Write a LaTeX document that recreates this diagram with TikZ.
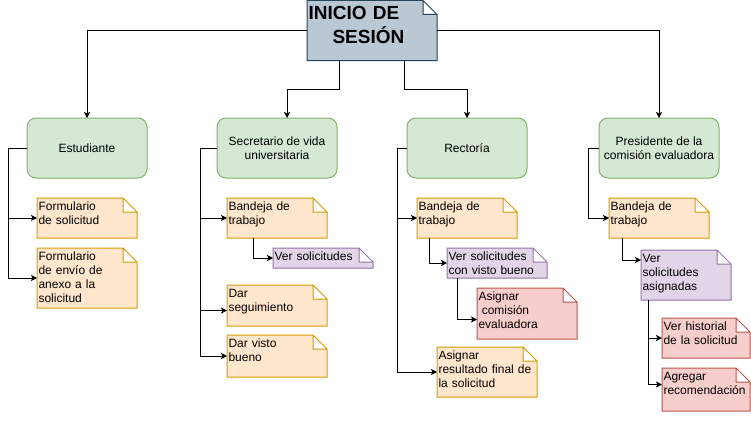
\documentclass[tikz,border=0pt]{standalone}
\usepackage{fontspec}
\setmainfont{Liberation Sans}
\usetikzlibrary{arrows.meta}

\definecolor{actorfill}{HTML}{D5E8D4}
\definecolor{actorline}{HTML}{82B366}
\definecolor{taskfill}{HTML}{FFE6CC}
\definecolor{taskline}{HTML}{D79B00}
\definecolor{viewfill}{HTML}{E1D5E7}
\definecolor{viewline}{HTML}{9673A6}
\definecolor{actfill}{HTML}{F8CECC}
\definecolor{actline}{HTML}{B85450}
\definecolor{titlefill}{HTML}{BAC8D3}
\definecolor{titleline}{HTML}{23445D}

\makeatletter
% rectangle with a folded top right corner
\pgfdeclareshape{dognote}{
  \inheritsavedanchors[from=rectangle]
  \inheritanchorborder[from=rectangle]
  \inheritanchor[from=rectangle]{center}
  \inheritanchor[from=rectangle]{north}
  \inheritanchor[from=rectangle]{south}
  \inheritanchor[from=rectangle]{east}
  \inheritanchor[from=rectangle]{west}
  \inheritanchor[from=rectangle]{north east}
  \inheritanchor[from=rectangle]{north west}
  \inheritanchor[from=rectangle]{south east}
  \inheritanchor[from=rectangle]{south west}
  \inheritanchor[from=rectangle]{text}
  \inheritanchor[from=rectangle]{base}
  \inheritanchor[from=rectangle]{mid}
  \backgroundpath{
    \southwest \edef\dnxa{\the\pgf@x}\edef\dnya{\the\pgf@y}
    \northeast \edef\dnxb{\the\pgf@x}\edef\dnyb{\the\pgf@y}
    \pgf@x=\dnxb\advance\pgf@x by -14pt\edef\dnxc{\the\pgf@x}
    \pgf@y=\dnyb\advance\pgf@y by -14pt\edef\dnyc{\the\pgf@y}
    \pgfpathmoveto{\pgfqpoint{\dnxa}{\dnya}}
    \pgfpathlineto{\pgfqpoint{\dnxa}{\dnyb}}
    \pgfpathlineto{\pgfqpoint{\dnxc}{\dnyb}}
    \pgfpathlineto{\pgfqpoint{\dnxb}{\dnyc}}
    \pgfpathlineto{\pgfqpoint{\dnxb}{\dnya}}
    \pgfpathclose
    \pgfpathmoveto{\pgfqpoint{\dnxc}{\dnyb}}
    \pgfpathlineto{\pgfqpoint{\dnxc}{\dnyc}}
    \pgfpathlineto{\pgfqpoint{\dnxb}{\dnyc}}
  }
}
\makeatother

\tikzset{
  boxfont/.style={font=\fontsize{12}{14}\selectfont, inner sep=0pt, outer sep=0pt, line width=1pt},
  actor/.style={boxfont, draw=actorline, fill=actorfill, rounded corners=9pt,
    minimum width=120pt, minimum height=60pt, align=center},
  note/.style={boxfont, shape=dognote, anchor=north west, align=left,
    inner xsep=1.5pt, text height=12.3pt},
  dims/.code 2 args={\pgfmathsetmacro\notetw{#1-3}\pgfmathsetmacro\notedp{#2-12.3}%
    \edef\notedo{\noexpand\tikzset{minimum width=#1pt, minimum height=#2pt,
      text width=\notetw pt, text depth=\notedp pt}}\notedo},
  task/.style={note, draw=taskline, fill=taskfill},
  view/.style={note, draw=viewline, fill=viewfill},
  act/.style={note, draw=actline, fill=actfill},
  link/.style={draw=black, line width=0.9pt, -{Stealth[length=6pt,width=6pt,inset=1.5pt]}},
}

\begin{document}
\begin{tikzpicture}[x=1pt, y=-1pt]
  \useasboundingbox (0,0) rectangle (751,420);

  % title
  \node[boxfont, shape=dognote, draw=titleline, fill=titlefill, anchor=north west,
    align=left, inner xsep=1.5pt, text width=127pt, minimum width=130pt,
    text height=19pt, text depth=41pt, font=\fontsize{19}{24}\selectfont\bfseries]
    (title) at (307,0.5) {INICIO DE\\\hspace*{24pt}SESIÓN};

  % roles
  \node[actor] (est) at (87,148) {Estudiante};
  \node[actor] (sec) at (277,148) {Secretario de vida\\universitaria};
  \node[actor] (rec) at (467,148) {Rectoría};
  \node[actor] (pres) at (659,148) {Presidente de la\\comisión evaluadora};

  % Estudiante
  \node[task, dims={100}{40}] (f1) at (37,198) {Formulario\\de solicitud};
  \node[task, dims={100}{60}] (f2) at (37,248) {Formulario\\de envío de\\anexo a la\\solicitud};

  % Secretario
  \node[task, dims={100}{40}] (sban) at (227,198) {Bandeja de\\trabajo};
  \node[view, dims={100}{20}] (sver) at (273,248) {Ver solicitudes};
  \node[task, dims={100}{41}] (sseg) at (227,285) {Dar\\seguimiento};
  \node[task, dims={100}{42}] (svis) at (227,335) {Dar visto\\bueno};

  % Rectoria
  \node[task, dims={100}{40}] (rban) at (417,198) {Bandeja de\\trabajo};
  \node[view, dims={100}{30}] (rvsb) at (447,248) {Ver solicitudes\\con visto bueno};
  \node[act, dims={100}{51}] (rcom) at (477,288) {Asignar\\\hspace*{3.3pt}comisión\\evaluadora};
  \node[task, dims={100}{50}] (rres) at (437,347) {Asignar\\resultado final de\\la solicitud};

  % Presidente
  \node[task, dims={100}{40}] (pban) at (609,198) {Bandeja de\\trabajo};
  \node[view, dims={90}{50}] (pvsa) at (641,250) {Ver\\solicitudes\\asignadas};
  \node[act, dims={88}{40}] (phis) at (662,318) {Ver historial\\de la solicitud};
  \node[act, dims={88}{43}] (prec) at (662,368) {Agregar\\recomendación};

  % links from the title
  \draw[link] (title.west) -| (est.north);
  \draw[link] (title.east) -| (pres.north);
  \draw[link] ([xshift=32pt]title.south west) -- ++(0,29) -| ([xshift=10pt]sec.north);
  \draw[link] ([xshift=97pt]title.south west) -- ++(0,29) -| (rec.north);

  \draw[link] (est.west) -- ++(-19,0) |- (f1.west);
  \draw[link] (est.west) -- ++(-19,0) |- (f2.west);

  \draw[link] (sec.west) -- ++(-17,0) |- (sban.west);
  \draw[link] (sec.west) -- ++(-17,0) |- ([yshift=-5pt]sseg.west);
  \draw[link] (sec.west) -- ++(-17,0) |- (svis.west);
  \draw[link] ([xshift=26pt]sban.south west) |- (sver.west);

  \draw[link] (rec.west) -- ++(-10,0) |- (rban.west);
  \draw[link] (rec.west) -- ++(-10,0) |- (rres.west);
  \draw[link] ([xshift=12pt]rban.south west) |- (rvsb.west);
  \draw[link] ([xshift=10pt]rvsb.south west) |- ([yshift=-6pt]rcom.west);

  \draw[link] (pres.west) -- ++(-11,0) |- (pban.west);
  \draw[link] ([xshift=13pt]pban.south west) |- ([yshift=-10pt]pvsa.north west);
  \draw[link] ([xshift=7pt]pvsa.south west) |- (phis.west);
  \draw[link] ([xshift=7pt]pvsa.south west) |- ([yshift=5pt]prec.west);
\end{tikzpicture}
\end{document}
